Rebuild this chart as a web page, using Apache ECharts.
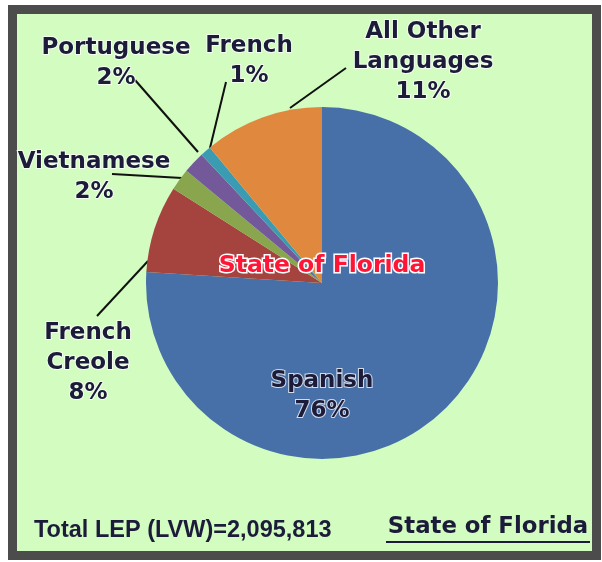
<!DOCTYPE html>
<html>
<head>
    <meta charset="utf-8" />
    <title>State of Florida LEP</title>
    <script src="https://cdn.jsdelivr.net/npm/echarts@6/dist/echarts.min.js"></script>
    <style type="text/css">
        body {
            margin: 0;
            padding: 0;
            background-color: #ffffff;
            overflow: hidden;
        }

        #frame {
            position: absolute;
            left: 8px;
            top: 5px;
            width: 593px;
            height: 555px;
            box-sizing: border-box;
            border: 9px solid #4c4c4c;
            background-color: #d2fcc0;
        }

        #main {
            position: absolute;
            left: 0;
            top: 0;
            width: 602px;
            height: 562px;
        }
    </style>
</head>
<body>
    <div id="frame"></div>
    <div id="main"></div>
    <script type="text/javascript">
        // languages, clockwise from 12 o'clock
        var languages = ['Spanish', 'French\nCreole', 'Vietnamese', 'Portuguese', 'French', 'All Other\nLanguages'];
        var shares = [76, 8, 2, 2, 1, 11];
        var sliceColors = ['#4770a8', '#a5433f', '#89a64e', '#74599a', '#3b9bb3', '#e0883d'];
        var centerTitle = 'State of Florida';
        var totalNote = 'Total LEP (LVW)=2,095,813';

        // where each label sits and where its leader line runs (page pixels)
        var labelSpots = [
            { x: 322, y: 396, line: null },
            { x: 88, y: 363, line: [[148, 261], [97, 316]] },
            { x: 94, y: 177, line: [[182, 178], [112, 174]] },
            { x: 116, y: 63, line: [[198, 152], [135, 80]] },
            { x: 249, y: 61, line: [[210, 148], [226, 82]] },
            { x: 423, y: 62, line: [[290, 108], [346, 68]] }
        ];

        var myChart = echarts.init(document.getElementById('main'), null, { renderer: 'canvas' });

        var pieData = languages.map(function (name, i) {
            var item = { name: name, value: shares[i], itemStyle: { color: sliceColors[i] } };
            if (i === 0) {
                item.labelLine = { show: false };
            }
            return item;
        });

        var option = {
            backgroundColor: 'transparent',
            animation: false,
            series: [{
                type: 'pie',
                center: [322, 283],
                radius: [0, 176],
                startAngle: 90,
                clockwise: true,
                avoidLabelOverlap: false,
                itemStyle: { borderWidth: 0 },
                emphasis: { disabled: true },
                label: {
                    show: true,
                    formatter: '{b}\n{c}%',
                    fontFamily: 'DejaVu Sans',
                    fontWeight: 'bold',
                    fontSize: 23,
                    lineHeight: 30,
                    color: '#1c1c3a',
                    textBorderColor: 'rgba(255,255,255,0.75)',
                    textBorderWidth: 2,
                    align: 'center'
                },
                labelLine: {
                    show: true,
                    lineStyle: { color: '#111111', width: 2 }
                },
                labelLayout: function (params) {
                    var spot = labelSpots[params.dataIndex];
                    var res = { x: spot.x, y: spot.y, align: 'center', verticalAlign: 'middle' };
                    if (spot.line) {
                        res.labelLinePoints = [spot.line[0], spot.line[1], spot.line[1]];
                    }
                    return res;
                },
                data: pieData
            }],
            graphic: [
                {
                    type: 'text',
                    x: 322,
                    y: 266,
                    style: {
                        text: centerTitle,
                        align: 'center',
                        verticalAlign: 'middle',
                        fontFamily: 'DejaVu Sans',
                        fontWeight: 'bold',
                        fontSize: 23.5,
                        fill: '#ff1535',
                        stroke: '#ffffff',
                        lineWidth: 3
                    },
                    z: 100
                },
                {
                    type: 'text',
                    x: 34,
                    y: 531,
                    style: {
                        text: totalNote,
                        align: 'left',
                        verticalAlign: 'middle',
                        fontFamily: 'Liberation Sans',
                        fontWeight: 'bold',
                        fontSize: 23.5,
                        fill: '#1c1c3a'
                    }
                },
                {
                    type: 'text',
                    x: 488,
                    y: 527,
                    style: {
                        text: centerTitle,
                        align: 'center',
                        verticalAlign: 'middle',
                        fontFamily: 'DejaVu Sans',
                        fontWeight: 'bold',
                        fontSize: 22.8,
                        fill: '#1c1c3a'
                    }
                },
                {
                    type: 'line',
                    shape: { x1: 386, y1: 542, x2: 590, y2: 542 },
                    style: { stroke: '#1c1c3a', lineWidth: 2 }
                }
            ]
        };

        myChart.setOption(option);
    </script>
</body>
</html>
